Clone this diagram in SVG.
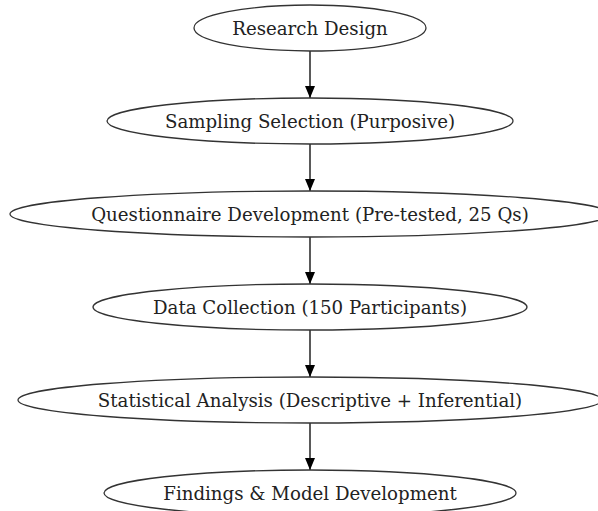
<svg xmlns="http://www.w3.org/2000/svg" width="598" height="511" viewBox="0 0 598 511">
<defs>
<marker id="ah" markerWidth="12" markerHeight="10" refX="12" refY="5" orient="auto" markerUnits="userSpaceOnUse">
<path d="M0,0 L12,5 L0,10 Z" fill="#000"/>
</marker>
<style>
.n ellipse{fill:#fff;stroke:#333;stroke-width:1.3}
.n text{font-family:"DejaVu Serif",serif;font-size:18.2px;fill:#222;text-anchor:middle;dominant-baseline:central}
.e line{stroke:#000;stroke-width:1.3;marker-end:url(#ah)}
</style>
</defs>
<rect width="598" height="511" fill="#fff"/>
<g class="e" id="edges">
<line x1="310" y1="51" x2="310" y2="98"/>
<line x1="310" y1="144" x2="310" y2="191"/>
<line x1="310" y1="237" x2="310" y2="284"/>
<line x1="310" y1="330" x2="310" y2="377"/>
<line x1="310" y1="423" x2="310" y2="470"/>
</g>
<g class="n" id="n1"><ellipse cx="310" cy="28" rx="116" ry="23"/><text x="310" y="28">Research Design</text></g>
<g class="n" id="n2"><ellipse cx="310" cy="121" rx="203" ry="23"/><text x="310" y="121">Sampling Selection (Purposive)</text></g>
<g class="n" id="n3"><ellipse cx="310" cy="214" rx="300" ry="23"/><text x="310" y="214">Questionnaire Development (Pre-tested, 25 Qs)</text></g>
<g class="n" id="n4"><ellipse cx="310" cy="307" rx="217" ry="23"/><text x="310" y="307">Data Collection (150 Participants)</text></g>
<g class="n" id="n5"><ellipse cx="310" cy="400" rx="292" ry="23"/><text x="310" y="400">Statistical Analysis (Descriptive + Inferential)</text></g>
<g class="n" id="n6"><ellipse cx="310" cy="493" rx="206" ry="23"/><text x="310" y="493">Findings &amp; Model Development</text></g>
</svg>
